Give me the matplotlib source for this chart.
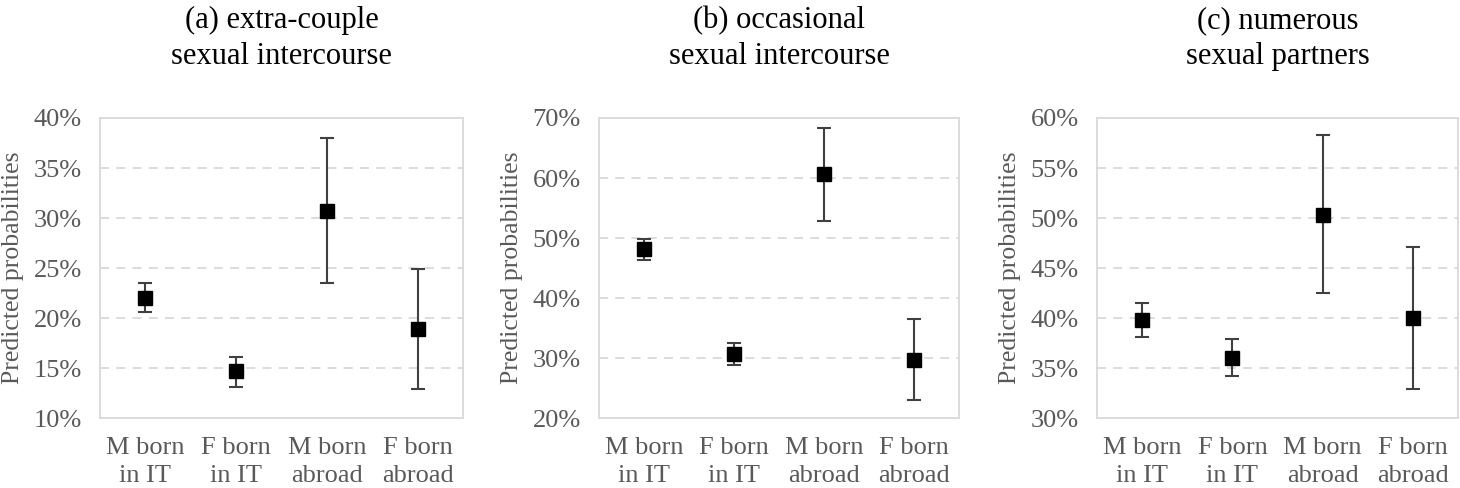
import numpy as np
import matplotlib
matplotlib.use('Agg')
import matplotlib.pyplot as plt

# categories (two-line tick labels)
groups = ['M born\nin IT', 'F born\nin IT', 'M born\nabroad', 'F born\nabroad']

# panel titles
titles = ['(a) extra-couple\nsexual intercourse',
          '(b) occasional\nsexual intercourse',
          '(c) numerous\nsexual partners']

# predicted probabilities (%) with lower / upper CI bounds
est_a = [22.0, 14.7, 30.7, 18.9]
low_a = [20.6, 13.1, 23.5, 12.9]
high_a = [23.5, 16.1, 38.0, 24.9]

est_b = [48.1, 30.7, 60.6, 29.6]
low_b = [46.4, 28.9, 52.8, 23.0]
high_b = [49.9, 32.5, 68.4, 36.5]

est_c = [39.8, 36.0, 50.3, 40.0]
low_c = [38.1, 34.2, 42.5, 32.9]
high_c = [41.5, 37.9, 58.3, 47.1]

# y axis ranges (min, max, step)
yranges = [(10, 40, 5), (20, 70, 10), (30, 60, 5)]

plt.rcParams['font.family'] = ['Liberation Serif', 'DejaVu Serif']

fig = plt.figure(figsize=(14.6, 4.88), dpi=100)
# axes boxes in figure fractions
boxes = [[0.0685, 0.1434, 0.2486, 0.6148],
         [0.4103, 0.1434, 0.2466, 0.6148],
         [0.7514, 0.1434, 0.2473, 0.6148]]

ests = [est_a, est_b, est_c]
lows = [low_a, low_b, low_c]
highs = [high_a, high_b, high_c]

grey = '#595959'
light = '#d9d9d9'

for k in range(3):
    ax = fig.add_axes(boxes[k])
    x = np.arange(len(groups))
    e = np.array(ests[k])
    lo = np.array(lows[k])
    hi = np.array(highs[k])
    ax.errorbar(x, e, yerr=[e - lo, hi - e], fmt='s', color='black',
                ecolor='#404040', elinewidth=1.5, capsize=5, capthick=1.5,
                markersize=9.5, zorder=3)
    ymin, ymax, step = yranges[k]
    ticks = np.arange(ymin, ymax + step / 2, step)
    ax.set_ylim(ymin, ymax)
    ax.set_yticks(ticks)
    ax.set_yticklabels(['%d%%' % t for t in ticks])
    for t in ticks[1:-1]:
        ax.axhline(t, color=light, lw=1.3, ls=(0, (5, 4)), zorder=1)
    ax.set_xlim(-0.5, len(groups) - 0.5)
    ax.set_xticks(x)
    ax.set_xticklabels(groups, linespacing=1.3)
    ax.tick_params(axis='both', length=0, labelsize=19, labelcolor=grey)
    ax.tick_params(axis='y', pad=13)
    ax.tick_params(axis='x', pad=14)
    for s in ax.spines.values():
        s.set_color(light)
        s.set_linewidth(1.3)
    ax.set_ylabel('Predicted probabilities', fontsize=18.5, color=grey, labelpad=7)
    ax.set_title(titles[k], fontsize=22, pad=39, linespacing=1.3)

fig.savefig('out.png', dpi=100)
